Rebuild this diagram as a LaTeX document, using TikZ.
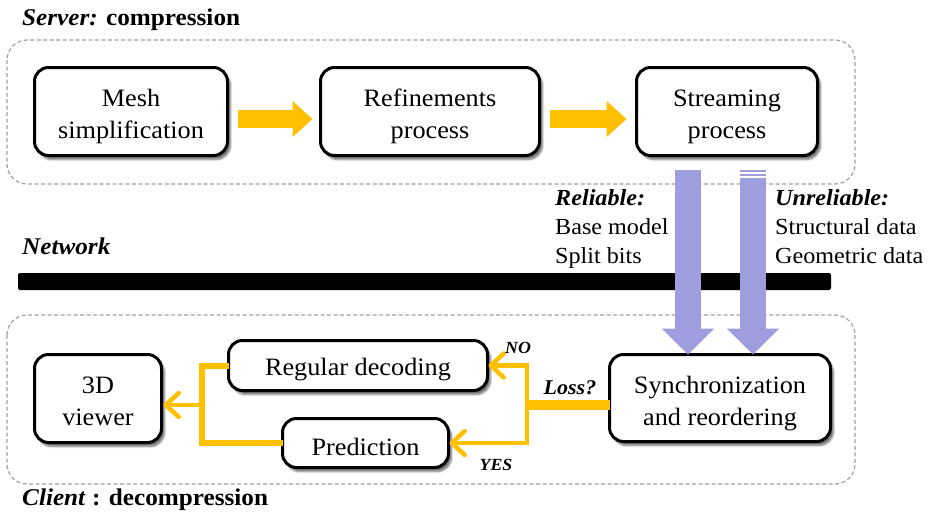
\documentclass[tikz,border=0pt]{standalone}
\usepackage{fontspec}
\setmainfont{Liberation Serif}[FakeStretch=1.05]
\usetikzlibrary{arrows.meta,calc,shadows.blur}
\definecolor{ygold}{RGB}{255,192,0}
\definecolor{lav}{RGB}{158,158,222}
\definecolor{dgray}{RGB}{160,160,160}
\newcommand\twoline[2]{\rule{0pt}{48pt}\begin{tabular}{@{}c@{}}#1\\#2\end{tabular}}
\tikzset{
  boxbase/.style={draw, line width=3pt, rounded corners=14pt, fill=white,
    font=\fontsize{25}{32}\selectfont, inner sep=0pt, outer sep=0pt,
    blur shadow={shadow xshift=3pt, shadow yshift=-4pt, shadow blur steps=6, shadow opacity=55}},
  box/.style={boxbase, execute at begin node={\rule{0pt}{25pt}}},
  region/.style={draw=dgray, line width=1.2pt, dash pattern=on 4pt off 2.5pt, rounded corners=20pt},
  blockarrow/.style={ygold, line width=18pt, -{Triangle[length=20pt,width=35pt]}},
  lavarrow/.style={lav, line width=26pt, -{Triangle[length=26pt,width=51pt]}},
  yline/.style={draw=ygold, line width=6pt},
  yarr/.style={draw=ygold, line width=4.5pt, -{Straight Barb[length=13pt,width=24pt,round]}},
  lbl/.style={font=\fontsize{23}{28}\selectfont, anchor=base west, inner sep=0pt},
  title/.style={font=\fontsize{24}{28}\selectfont\bfseries, anchor=base west, inner sep=0pt},
  small/.style={font=\fontsize{17}{20}\selectfont\bfseries\itshape, inner sep=0pt},
}
\begin{document}
\begin{tikzpicture}[x=1pt,y=-1pt]
\useasboundingbox (0,0) rectangle (937,523);
% regions
\node[title] (srvt) at (22,25) {\textit{Server:} compression};
\draw[region] (7,40) rectangle (855,184);
\draw[region] (7,315) rectangle (855,484);
\node[title] (clit) at (22,505) {\textit{Client} : decompression};
% server boxes
\node[boxbase, minimum width=193pt, minimum height=88pt] (mesh) at (131,111.5) {\twoline{Mesh}{simplification}};
\node[boxbase, minimum width=219pt, minimum height=88pt] (ref) at (430,111.5) {\twoline{Refinements}{process}};
\node[boxbase, minimum width=181pt, minimum height=88pt] (str) at (727,111.5) {\twoline{Streaming}{process}};
\draw[blockarrow] ([xshift=10pt,yshift=-7.5pt]mesh.east) -- ([xshift=-8pt,yshift=-7.5pt]ref.west);
\draw[blockarrow] ([xshift=10pt,yshift=-7.5pt]ref.east) -- ([xshift=-10pt,yshift=-7.5pt]str.west);
% network
\node[lbl, font=\fontsize{24}{28}\selectfont\bfseries\itshape] (net) at (22,254) {Network};
\fill[rounded corners=2pt] (18,273) rectangle (831,290);
% client boxes
\node[boxbase, minimum width=127pt, minimum height=88pt] (view) at (98,398.5) {\twoline{3D}{viewer}};
\node[box, minimum width=259pt, minimum height=50pt] (reg) at (358,365.5) {Regular decoding};
\node[box, minimum width=166pt, minimum height=49pt] (pred) at (365.5,443) {Prediction};
\node[boxbase, minimum width=221pt, minimum height=87pt] (sync) at (720,398) {\twoline{Synchronization}{and reordering}};
% lavender arrows
\draw[lavarrow] ($(sync.north)+(-32,-184.5)$) -- ([xshift=-32pt]sync.north);
\draw[lavarrow] ($(sync.north)+(33,-177)$) -- ([xshift=33pt]sync.north);
\fill[lav] ($(sync.north)+(20,-184.5)$) rectangle ($(sync.north)+(46,-182.5)$);
\fill[lav] ($(sync.north)+(20,-181)$) rectangle ($(sync.north)+(46,-179)$);
% reliable / unreliable labels
\node[lbl, font=\fontsize{23}{28}\selectfont\bfseries\itshape] (rel) at (555,205) {Reliable:};
\node[lbl] (rel1) at (555,234) {Base model};
\node[lbl] (rel2) at (555,263) {Split bits};
\node[lbl, font=\fontsize{23}{28}\selectfont\bfseries\itshape] (unr) at (775,205) {Unreliable:};
\node[lbl] (unr1) at (775,234) {Structural data};
\node[lbl] (unr2) at (775,263) {Geometric data};
% yellow decision connectors
\coordinate (lj) at (527,405);
\coordinate (rj) at (202,405);
\draw[draw=ygold, line width=10pt] ([yshift=-7pt]sync.west) -- (lj);
\draw[yarr, {Straight Barb[length=13pt,width=24pt,round]}-{Straight Barb[length=13pt,width=24pt,round]}]
  ([xshift=1pt]reg.east) -| (lj |- pred.east) -- ([xshift=1pt]pred.east);
\draw[yline] (reg.west) -| (rj |- pred.west) -- (pred.west);
\draw[yarr] (rj) -- ([xshift=2pt]rj -| view.east);
\node[small] (no) at (518,348) {NO};
\node[small] (yes) at (496,465) {YES};
\node[small, font=\fontsize{21}{24}\selectfont\bfseries\itshape] (loss) at (570,388) {Loss?};
\end{tikzpicture}
\end{document}
